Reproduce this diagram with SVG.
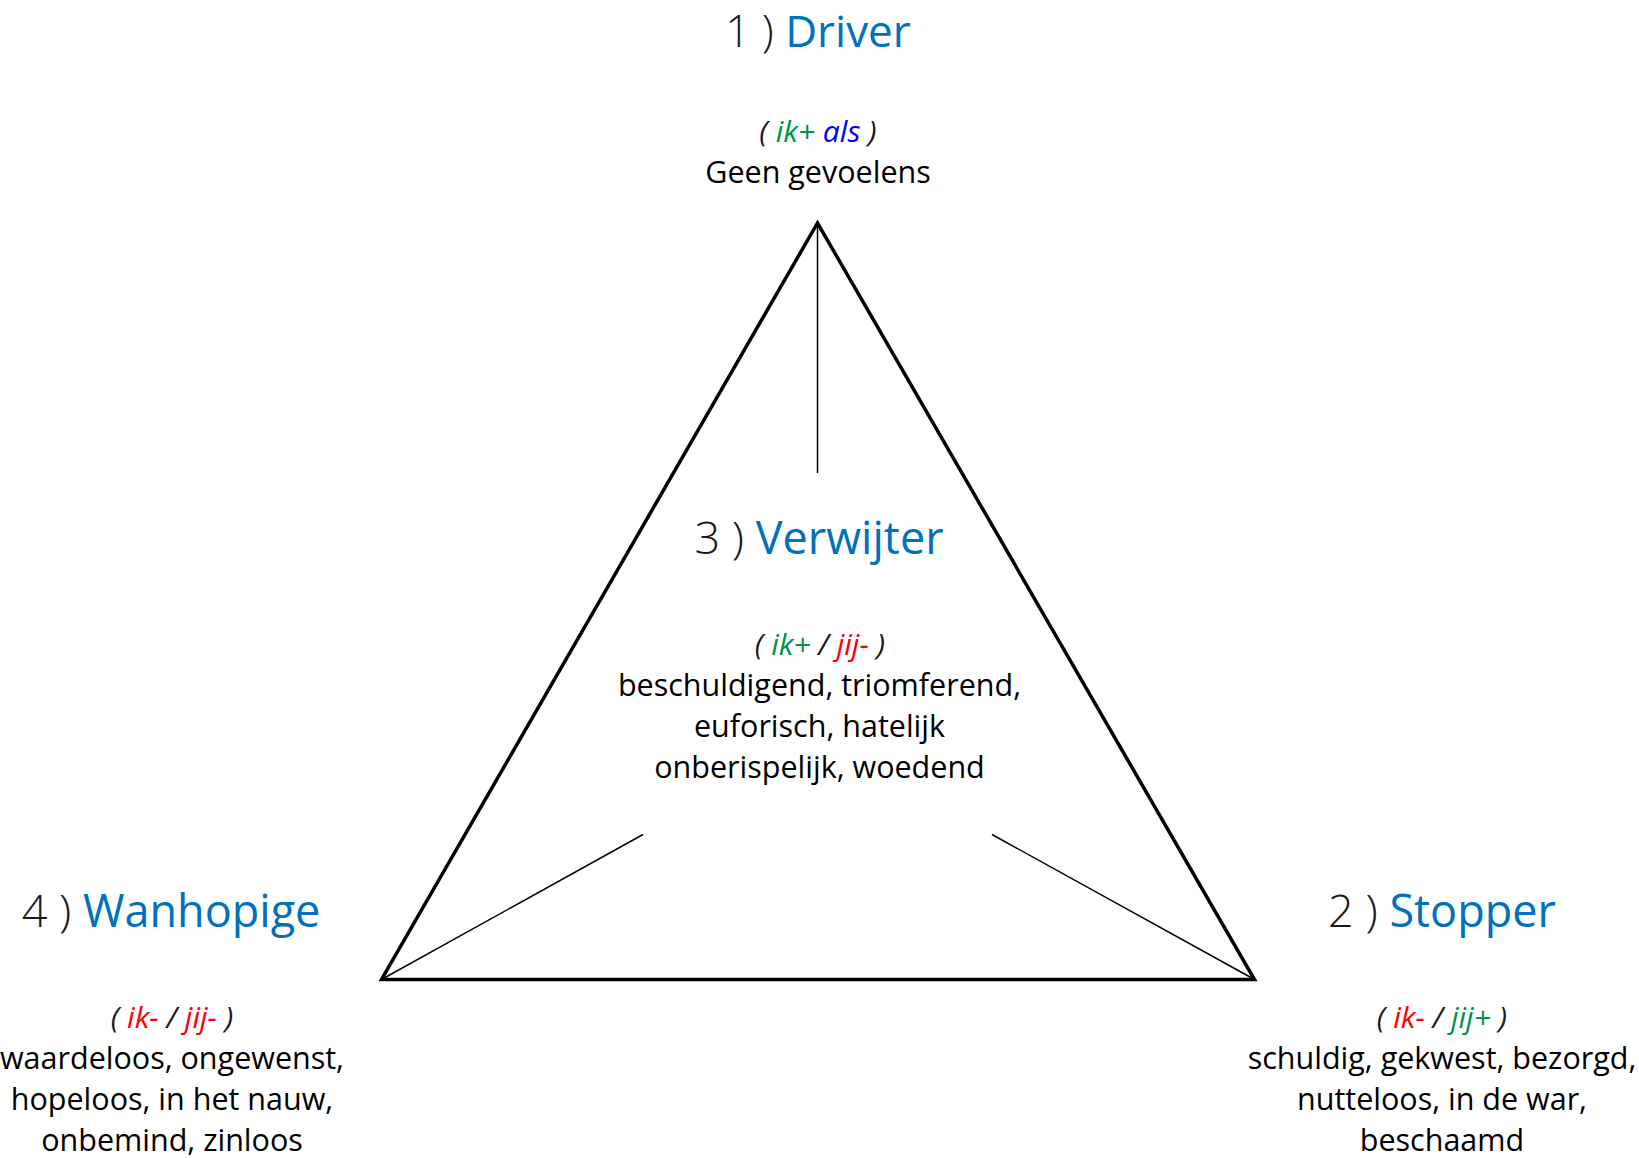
<svg xmlns="http://www.w3.org/2000/svg" width="1639" height="1158" viewBox="0 0 1639 1158">
<style>
text{font-family:"Open Sans","Noto Sans","Liberation Sans",sans-serif;text-anchor:middle}
.num{font-size:45px;font-weight:300;fill:#1a1a1a}
.ttl{font-size:45px;fill:#0071BC}
.top .num,.top .ttl{font-size:44px}
.tag{font-size:30px;font-style:italic;fill:#1a1a1a}
.body{font-size:30.5px;fill:#000}
.g{fill:#009245}.r{fill:#FF0000}.b{fill:#0000FF}
.tri{fill:none;stroke:#000;stroke-width:3.5;stroke-linejoin:miter}
.conn{stroke:#000;stroke-width:1.5;fill:none}
</style>
<g id="triangle">
<polygon class="tri" points="817.5,223 381.5,979.5 1254.5,979.5"/>
</g>
<g id="connectors">
<line class="conn" x1="817.5" y1="223" x2="817.5" y2="473"/>
<line class="conn" x1="381.5" y1="979.5" x2="643" y2="834.5"/>
<line class="conn" x1="1254.5" y1="979.5" x2="992" y2="834.5"/>
</g>
<g id="node-driver">
<text class="top" x="818" y="47"><tspan class="num">1 ) </tspan><tspan class="ttl">Driver</tspan></text>
<text class="tag" x="818" y="142">( <tspan class="g">ik+</tspan> <tspan class="b">als</tspan> )</text>
<text class="body" x="818" y="183">Geen gevoelens</text>
</g>
<g id="node-verwijter">
<text x="819" y="554"><tspan class="num">3 ) </tspan><tspan class="ttl">Verwijter</tspan></text>
<text class="tag" x="820" y="655">( <tspan class="g">ik+</tspan> / <tspan class="r">jij-</tspan> )</text>
<text class="body" x="819.5" y="696">beschuldigend, triomferend,</text>
<text class="body" x="819.5" y="737">euforisch, hatelijk</text>
<text class="body" x="819.5" y="778">onberispelijk, woedend</text>
</g>
<g id="node-wanhopige">
<text x="171" y="927"><tspan class="num">4 ) </tspan><tspan class="ttl">Wanhopige</tspan></text>
<text class="tag" x="172" y="1028">( <tspan class="r">ik-</tspan> / <tspan class="r">jij-</tspan> )</text>
<text class="body" x="172" y="1069">waardeloos, ongewenst,</text>
<text class="body" x="172" y="1110">hopeloos, in het nauw,</text>
<text class="body" x="172" y="1151">onbemind, zinloos</text>
</g>
<g id="node-stopper">
<text x="1442" y="927"><tspan class="num">2 ) </tspan><tspan class="ttl">Stopper</tspan></text>
<text class="tag" x="1442" y="1028">( <tspan class="r">ik-</tspan> / <tspan class="g">jij+</tspan> )</text>
<text class="body" x="1442" y="1069">schuldig, gekwest, bezorgd,</text>
<text class="body" x="1442" y="1110">nutteloos, in de war,</text>
<text class="body" x="1442" y="1151">beschaamd</text>
</g>
</svg>
